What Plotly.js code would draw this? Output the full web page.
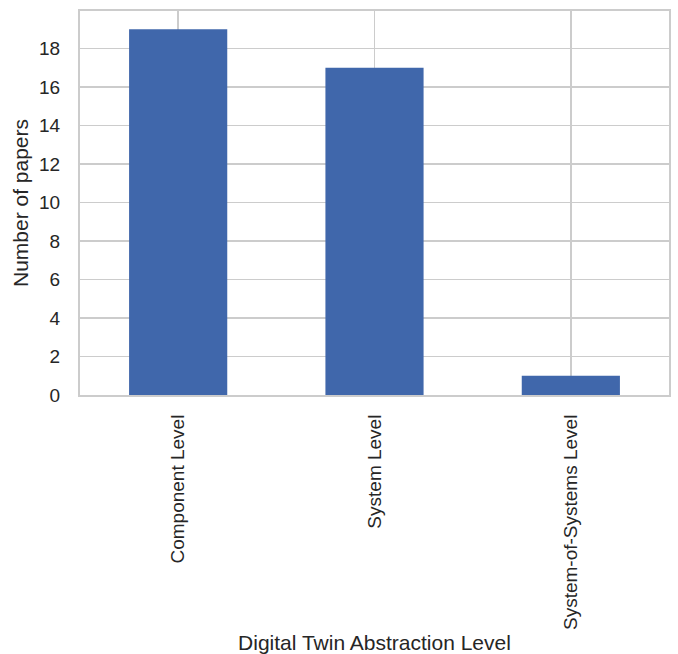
<!DOCTYPE html>
<html>
<head>
<meta charset="utf-8">
<script src="https://cdn.plot.ly/plotly-3.0.1.min.js"></script>
<style>html,body{margin:0;padding:0;background:#fff;}#chart{width:678px;height:654px;}</style>
</head>
<body>
<div id="chart"></div>
<script>
const categories = ["Component Level", "System Level", "System-of-Systems Level"];
const paperCounts = [19, 17, 1];
const yTickValues = [0, 2, 4, 6, 8, 10, 12, 14, 16, 18];

const trace = {
  type: 'bar',
  x: categories,
  y: paperCounts,
  marker: {color: '#4067AB', line: {width: 0}},
  width: 0.5,
  hoverinfo: 'x+y'
};

const layout = {
  width: 678,
  height: 654,
  margin: {l: 80, r: 9, t: 11, b: 259, pad: 0},
  paper_bgcolor: '#ffffff',
  plot_bgcolor: '#ffffff',
  font: {family: 'Liberation Sans, Arial, sans-serif', size: 19, color: '#262626'},
  showlegend: false,
  bargap: 0.5,
  xaxis: {
    type: 'category',
    range: [-0.5, 2.5],
    tickangle: -90,
    showgrid: true,
    gridcolor: '#cccccc',
    gridwidth: 1.8,
    showline: true,
    linecolor: '#cccccc',
    linewidth: 2,
    mirror: true,
    ticks: '',
    ticklabelstandoff: 10,
    tickfont: {size: 19, color: '#262626'},
    automargin: false,
    title: {text: 'Digital Twin Abstraction Level', font: {size: 21, color: '#262626'}, standoff: 12}
  },
  yaxis: {
    range: [0, 19.95],
    tickvals: yTickValues,
    ticktext: yTickValues.map(String),
    showgrid: true,
    gridcolor: '#cccccc',
    gridwidth: 1.8,
    zeroline: false,
    showline: true,
    linecolor: '#cccccc',
    linewidth: 2,
    mirror: true,
    ticks: '',
    ticklabelstandoff: 14,
    tickfont: {size: 19, color: '#262626'},
    automargin: false,
    title: {text: 'Number of papers', font: {size: 21, color: '#262626'}, standoff: 5}
  }
};

Plotly.newPlot('chart', [trace], layout, {displayModeBar: false, staticPlot: true});
</script>
</body>
</html>
